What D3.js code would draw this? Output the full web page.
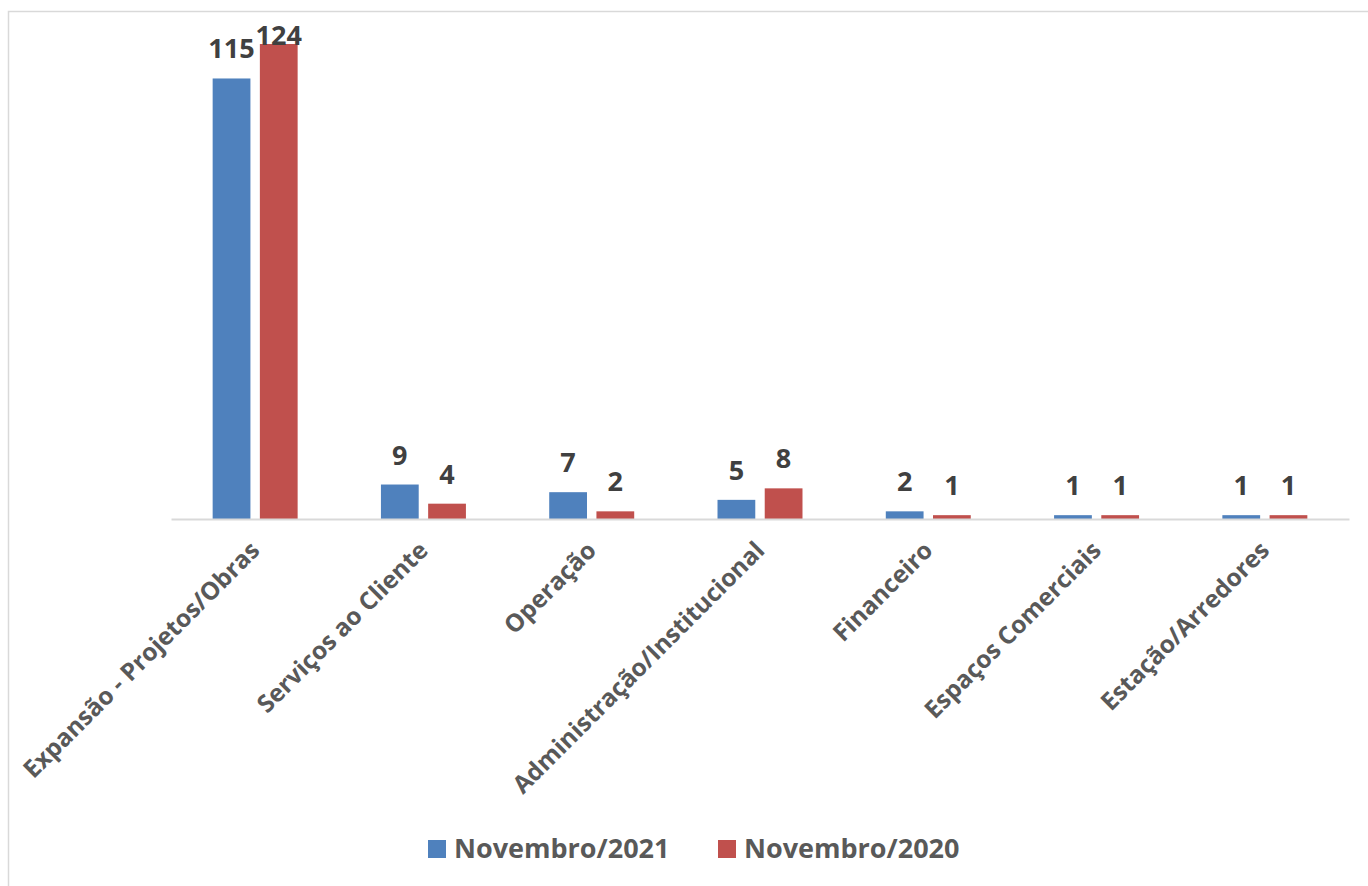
<!DOCTYPE html>
<html>
<head>
<meta charset="utf-8">
<script src="https://cdn.jsdelivr.net/npm/d3@7"></script>
<style>
  body { margin: 0; background: #fff; }
  svg { display: block; font-family: "Open Sans", "DejaVu Sans", sans-serif; }
</style>
</head>
<body>
<div id="chart"></div>
<script>
const categories = [
  "Expansão - Projetos/Obras",
  "Serviços ao Cliente",
  "Operação",
  "Administração/Institucional",
  "Financeiro",
  "Espaços Comerciais",
  "Estação/Arredores"
];
const seriesNames = ["Novembro/2021", "Novembro/2020"];
const values2021 = [115, 9, 7, 5, 2, 1, 1];
const values2020 = [124, 4, 2, 8, 1, 1, 1];
const colors = ["#4F81BD", "#C0504D"];

const width = 1368, height = 886;
const plot = { left: 171, right: 1349, top: 44, bottom: 519 };

const svg = d3.select("#chart").append("svg")
  .attr("width", width)
  .attr("height", height);

// chart frame (light gray border)
svg.append("rect")
  .attr("x", 8.5).attr("y", 11.5)
  .attr("width", width + 10).attr("height", height + 10)
  .attr("fill", "none")
  .attr("stroke", "#d9d9d9")
  .attr("stroke-width", 1.5);

const x0 = d3.scaleBand()
  .domain(categories)
  .range([plot.left, plot.right])
  .paddingInner(0)
  .paddingOuter(0);

const x1 = d3.scaleBand()
  .domain(seriesNames)
  .range([x0.bandwidth() * 0.2475, x0.bandwidth() * 0.7525])
  .paddingInner(0.2);

const y = d3.scaleLinear()
  .domain([0, 124])
  .range([plot.bottom, plot.top]);

const rows = categories.map((c, i) => ({
  cat: c,
  vals: [
    { s: seriesNames[0], v: values2021[i], color: colors[0] },
    { s: seriesNames[1], v: values2020[i], color: colors[1] }
  ]
}));

const groups = svg.append("g").selectAll("g")
  .data(rows)
  .join("g")
  .attr("transform", d => `translate(${x0(d.cat)},0)`);

groups.selectAll("rect")
  .data(d => d.vals)
  .join("rect")
  .attr("x", d => x1(d.s))
  .attr("y", d => y(d.v))
  .attr("width", x1.bandwidth())
  .attr("height", d => y(0) - y(d.v))
  .attr("fill", d => d.color);

groups.selectAll("text.value")
  .data(d => d.vals)
  .join("text")
  .attr("class", "value")
  .attr("x", d => x1(d.s) + x1.bandwidth() / 2)
  .attr("y", d => Math.max(y(d.v) - 20, 45))
  .attr("text-anchor", "middle")
  .attr("font-size", 27)
  .attr("font-weight", "bold")
  .attr("fill", "#404040")
  .text(d => d.v);

// baseline axis
const xAxis = d3.axisBottom(x0).tickSize(0).tickPadding(0);
const axisG = svg.append("g")
  .attr("transform", `translate(0,${plot.bottom})`)
  .call(xAxis);
axisG.select(".domain").attr("stroke", "#d9d9d9").attr("stroke-width", 2);
axisG.selectAll(".tick text")
  .attr("font-family", "'Open Sans', sans-serif")
  .attr("font-size", 24.5)
  .attr("font-weight", "bold")
  .attr("fill", "#595959")
  .attr("text-anchor", "end")
  .attr("dy", 0)
  .attr("transform", "translate(6,33) rotate(-45)");

// legend
const legendItems = [
  { name: seriesNames[0], color: colors[0], x: 428 },
  { name: seriesNames[1], color: colors[1], x: 718 }
];
const legend = svg.append("g").selectAll("g")
  .data(legendItems)
  .join("g")
  .attr("transform", d => `translate(${d.x},840)`);
legend.append("rect")
  .attr("width", 18).attr("height", 18)
  .attr("fill", d => d.color);
legend.append("text")
  .attr("x", 26).attr("y", 18)
  .attr("font-size", 27)
  .attr("font-weight", "bold")
  .attr("fill", "#595959")
  .text(d => d.name);
</script>
</body>
</html>
